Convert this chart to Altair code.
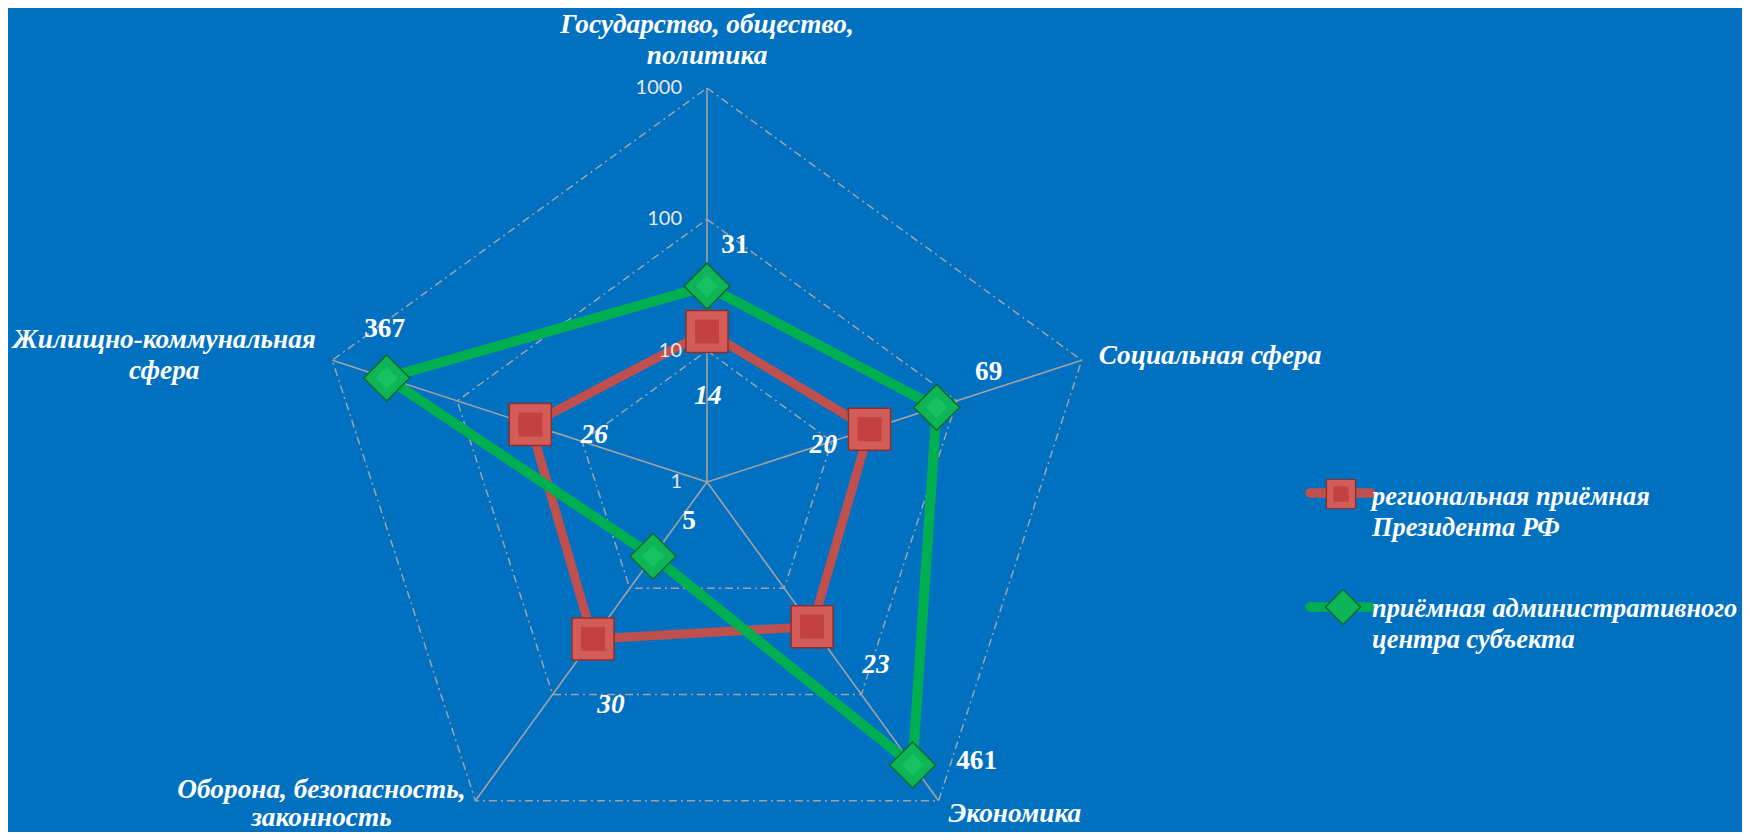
import altair as alt
import pandas as pd

# ---------------- data ----------------
categories = [
    "Государство, общество,\nполитика",
    "Социальная сфера",
    "Экономика",
    "Оборона, безопасность,\nзаконность",
    "Жилищно-коммунальная\nсфера",
]
series_names = [
    "региональная приёмная\nПрезидента РФ",
    "приёмная административного\nцентра субъекта",
]
reception_president = [14, 20, 23, 30, 26]
reception_center = [31, 69, 461, 5, 367]
tick_values = [1, 10, 100, 1000]
grid_levels = [10, 100, 1000]

# ---------------- layout ----------------
W, H = 1734, 824
CX, CY = 699, 474          # centre of the radar inside the plot area
PX = 131.33                # pixels per decade
N = len(categories)
BG = "#0070C0"
RED = "#C0504D"
GREEN = "#00B050"
GRID = "#A3A3A3"
SERIF = "Liberation Serif"
FS = 27.3
FS_LEG = 26.4

xs = alt.Scale(domain=[-CX / PX, (W - CX) / PX], nice=False, zero=False)
ys = alt.Scale(domain=[-(H - CY) / PX, CY / PX], nice=False, zero=False)
X = alt.X("px:Q", scale=xs, axis=None)
Y = alt.Y("py:Q", scale=ys, axis=None)


def polar(ch):
    return (
        ch.transform_calculate(r="log(datum.value)/LN10")
        .transform_calculate(ang=f"datum.idx*2*PI/{N}")
        .transform_calculate(px="datum.r*sin(datum.ang)")
        .transform_calculate(py="datum.r*cos(datum.ang)")
    )


# tables built from the arrays
rows = []
for key, vals in (("red", reception_president), ("green", reception_center)):
    for i in range(N + 1):
        rows.append({"series": key, "idx": i, "value": vals[i % N]})
df = pd.DataFrame(rows)

grid_rows = [{"level": lv, "idx": i, "value": lv} for lv in grid_levels for i in range(N + 1)]
df_grid = pd.DataFrame(grid_rows)

df_spokes = pd.DataFrame({"idx": list(range(N)), "value": [tick_values[-1]] * N})
df_ticks = pd.DataFrame({"idx": [0] * len(tick_values), "value": tick_values})
df_cats = pd.DataFrame({"idx": list(range(N)), "category": categories,
                        "value": [tick_values[-1]] * N})

layers = []

# grid pentagons (dash-dot)
layers.append(
    polar(alt.Chart(df_grid)).mark_line(color=GRID, strokeWidth=1.5, strokeDash=[8, 4, 2, 4])
    .encode(x=X, y=Y, detail="level:N", order="idx:Q")
)
# spokes
layers.append(
    polar(alt.Chart(df_spokes))
    .transform_calculate(x0="0", y0="0")
    .mark_rule(color=GRID, strokeWidth=1.6)
    .encode(x=alt.X("x0:Q", scale=xs, axis=None), y=alt.Y("y0:Q", scale=ys, axis=None),
            x2="px:Q", y2="py:Q")
)

# category labels
cat_layout = [
    ("center", 0, -55, 31),
    ("left", 17, 4, 31),
    ("left", 10, 21, 31),
    ("center", -154, -3, 28),
    ("center", -168, -12, 31),
]
for i, (al, dx, dy, lh) in enumerate(cat_layout):
    layers.append(
        polar(alt.Chart(df_cats)).transform_filter(f"datum.idx == {i}")
        .mark_text(align=al, baseline="alphabetic", dx=dx, dy=dy, lineBreak="\n",
                   lineHeight=lh, font=SERIF, fontStyle="italic", fontWeight="bold",
                   fontSize=FS, color="white")
        .encode(x=X, y=Y, text="category:N")
    )

# series: line then markers (Excel order)
red = polar(alt.Chart(df).transform_filter("datum.series == 'red'"))
green = polar(alt.Chart(df).transform_filter("datum.series == 'green'"))

layers.append(red.mark_line(color=RED, strokeWidth=9, strokeJoin="round")
              .encode(x=X, y=Y, order="idx:Q"))
red_pts = red.transform_filter(f"datum.idx < {N}")
layers.append(red_pts.mark_point(shape="square", filled=True, size=42 * 42, fill="#D35C59",
                                 stroke="#8E2F2C", strokeWidth=1.5, opacity=1)
              .encode(x=X, y=Y))
layers.append(red_pts.mark_point(shape="square", filled=True, size=24 * 24, fill="#C3423F",
                                 opacity=1)
              .encode(x=X, y=Y))

layers.append(green.mark_line(color=GREEN, strokeWidth=10, strokeJoin="round")
              .encode(x=X, y=Y, order="idx:Q"))
green_pts = green.transform_filter(f"datum.idx < {N}")
layers.append(green_pts.mark_point(shape="diamond", filled=True, size=46 * 46, fill="#0DB557",
                                   stroke="#0A6B30", strokeWidth=1.5, opacity=1)
              .encode(x=X, y=Y))
layers.append(green_pts.mark_point(shape="diamond", filled=True, size=22 * 22, fill="#16C262",
                                   opacity=1)
              .encode(x=X, y=Y))

# tick labels (drawn above the series lines, as in the reference)
layers.append(
    polar(alt.Chart(df_ticks)).mark_text(align="right", baseline="middle", dx=-25,
                                         font="Lato", fontSize=20, color="#E8E8E8")
    .encode(x=X, y=Y, text=alt.Text("value:Q", format="d"))
)

# value labels
red_off = [(1, 65), (-46, 16), (64, 38), (18, 66), (64, 10)]
green_off = [(28, -41), (52, -35), (64, -4), (36, -35), (-2, -49)]
for i, (dx, dy) in enumerate(red_off):
    layers.append(
        red.transform_filter(f"datum.idx == {i}")
        .mark_text(dx=dx, dy=dy, baseline="middle", align="center", font=SERIF,
                   fontStyle="italic", fontWeight="bold", fontSize=FS, color="white")
        .encode(x=X, y=Y, text="value:Q")
    )
for i, (dx, dy) in enumerate(green_off):
    layers.append(
        green.transform_filter(f"datum.idx == {i}")
        .mark_text(dx=dx, dy=dy, baseline="middle", align="center", font=SERIF,
                   fontWeight="bold", fontSize=FS, color="white")
        .encode(x=X, y=Y, text="value:Q")
    )

# legend (drawn by hand)
leg = pd.DataFrame({"name": series_names})
LX0, LX1, LTX = 1302, 1363, 1364
LY = [485, 599]
layers.append(alt.Chart(leg).mark_rule(color=RED, strokeWidth=9, strokeCap="round")
              .encode(x=alt.value(LX0), x2=alt.value(LX1), y=alt.value(LY[0])))
layers.append(alt.Chart(leg).mark_point(shape="square", filled=True, size=29 * 29, fill="#D35C59",
                                        stroke="#8E2F2C", strokeWidth=1.2, opacity=1)
              .encode(x=alt.value(1333), y=alt.value(LY[0] + 1)))
layers.append(alt.Chart(leg).mark_point(shape="square", filled=True, size=15 * 15, fill="#C3423F",
                                        opacity=1)
              .encode(x=alt.value(1333), y=alt.value(LY[0] + 1)))
layers.append(alt.Chart(leg).mark_rule(color=GREEN, strokeWidth=9, strokeCap="round")
              .encode(x=alt.value(LX0), x2=alt.value(LX1), y=alt.value(LY[1])))
layers.append(alt.Chart(leg).mark_point(shape="diamond", filled=True, size=35 * 35, fill="#0DB557",
                                        stroke="#0A6B30", strokeWidth=1.2, opacity=1)
              .encode(x=alt.value(1335), y=alt.value(LY[1])))
for k, base_y in enumerate([497, 609]):
    layers.append(
        alt.Chart(leg).transform_filter(alt.datum.name == series_names[k])
        .mark_text(align="left", baseline="alphabetic", lineBreak="\n", lineHeight=31,
                   font=SERIF, fontStyle="italic", fontWeight="bold", fontSize=FS_LEG,
                   color="white")
        .encode(x=alt.value(LTX), y=alt.value(base_y), text="name:N")
    )

chart = (
    alt.layer(*layers)
    .properties(width=W, height=H, autosize=alt.AutoSizeParams(type="none"), padding=0,
                background=BG)
    .configure_view(stroke=None)
)

chart.save("out.html", embed_options={"renderer": "svg", "actions": False})
